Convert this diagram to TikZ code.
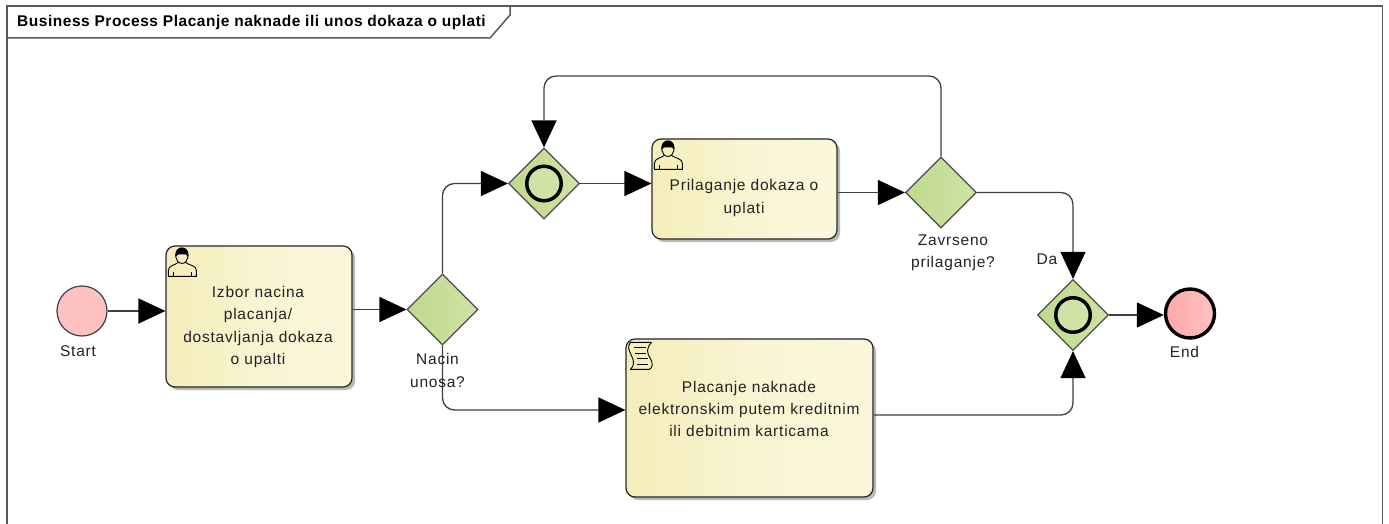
\documentclass[tikz,border=0pt]{standalone}
\usepackage{fontspec}
\setmainfont{Liberation Sans}
\newfontfamily\labfont[LetterSpace=5]{Liberation Sans}
\newfontfamily\titlefont[LetterSpace=3.4,BoldFont={Liberation Sans Bold}]{Liberation Sans Bold}
\usetikzlibrary{arrows.meta,shadows,shapes.geometric}
\definecolor{framec}{HTML}{5A5A5A}
\definecolor{linec}{HTML}{404040}
\definecolor{txt}{HTML}{222222}
\tikzset{
  x=1pt,y=-1pt,
  flow/.style={draw=linec,line width=1.3pt,rounded corners=12pt,-{Triangle[length=27pt,width=25pt,fill=black,color=black]}},
  flowtext/.style={text=txt,font=\labfont\fontsize{15.5}{22.4}\selectfont,align=center,inner sep=0pt},
  taskbox/.style={draw=black!85,line width=1.2pt,rectangle,rounded corners=9pt,left color=taskl,right color=taskr,middle color=taskm,
     drop shadow={shadow xshift=3pt,shadow yshift=-3pt,fill=black,opacity=.28},inner sep=0pt},
  gate/.style={diamond,aspect=1,draw=black!70,line width=1.2pt,left color=gatel,right color=gater,inner sep=0pt,minimum width=71pt,minimum height=71pt},
  ring/.style={circle,draw=black,line width=3.5pt,fill=gater,inner sep=0pt,outer sep=0pt,minimum size=34.5pt},
  startev/.style={circle,draw=black!75,line width=1.2pt,fill=evfill,inner sep=0pt,minimum size=50pt},
  endev/.style={circle,draw=black,line width=3.4pt,left color=evl,right color=evfill,inner sep=0pt,minimum size=49pt},
  framel/.style={draw=framec,line width=1.8pt},
  iconl/.style={draw=black,line width=.9pt,line join=round},
}
\definecolor{taskl}{HTML}{F5EDBA}
\definecolor{taskm}{HTML}{F9F4D2}
\definecolor{taskr}{HTML}{FBF7DC}
\definecolor{gatel}{HTML}{BFD98C}
\definecolor{gater}{HTML}{CFE3A6}
\definecolor{evfill}{HTML}{FFC2C2}
\definecolor{evl}{HTML}{FFA8A8}
\newcommand{\personglyph}{%
  \fill[black] (10,8.5) arc[start angle=180,end angle=360,radius=6.5] -- (23,11) -- (20,9) -- (13,9) -- (10,11) -- cycle;
  \draw[iconl] (10.5,9) -- (10.5,12) .. controls (11,15) and (13,18) .. (16.5,18) .. controls (20,18) and (22,15) .. (22.5,12) -- (22.5,9);
  \draw[iconl] (3,31) -- (3,25) .. controls (3,20) and (9,20) .. (13,17);
  \draw[iconl] (20,17) .. controls (24,20) and (31,20) .. (31,25) -- (31,31) -- (3,31);
  \draw[iconl] (8,31) -- (8,27) (26,31) -- (26,27);
}
\newcommand{\scriptglyph}{%
  \draw[iconl] (5,4) -- (26,4) .. controls (21,10) and (21,14) .. (25,20) .. controls (28,26) and (27,29) .. (24,31) -- (5,31) .. controls (9,27) and (9,23) .. (6,17) .. controls (3,11) and (2,8) .. (5,4) -- cycle;
  \draw[iconl] (9,9.5) -- (21,9.5) (10,15) -- (21,15) (12,20.5) -- (23,20.5) (12,26) -- (23,26);
}
\begin{document}
\begin{tikzpicture}
\useasboundingbox[fill=white] (0,0) rectangle (1389,524);
% frame
\coordinate (fbl) at (7,524);
\coordinate (ftl) at (7,6);
\coordinate (ftr) at (1382.5,6);
\coordinate (fbr) at (1382.5,524);
\coordinate (tabl) at (7,38);
\coordinate (tabe) at (490,38);
\coordinate (tabd) at (510,15);
\coordinate (tabt) at (510,6);
\draw[framel] (fbl) -- (ftl) -- (ftr) -- (fbr);
\draw[framel,line width=1.5pt] (tabl) -- (tabe) -- (tabd) -- (tabt);
\node[anchor=west,inner sep=0pt,font=\titlefont\fontsize{15.5}{18}\selectfont,text=black] (title) at (17,22) {Business Process Placanje naknade ili unos dokaza o uplati};

% nodes
\node[startev] (start) at (82,311) {};
\node[taskbox,minimum width=186pt,minimum height=141pt] (t1) at (259,316.5) {};
\node[gate] (g1) at (442.5,309.5) {};
\node[gate] (g2) at (544,183.5) {};
\node[ring] (r2) at (544,183.5) {};
\node[taskbox,minimum width=185pt,minimum height=100pt] (t2) at (744.5,189) {};
\node[gate] (g3) at (941,192.5) {};
\node[taskbox,minimum width=247pt,minimum height=158pt] (t3) at (749.5,418) {};
\node[gate] (g4) at (1073,315) {};
\node[ring] (r4) at (1073,315) {};
\node[endev] (end) at (1190,313.5) {};

% connectors
\coordinate (c1) at (442.5,183.5);
\coordinate (c2) at (442.5,410);
\coordinate (c3) at (941,76);
\coordinate (c4) at (544,76);
\coordinate (c5) at (1073,192.5);
\coordinate (c6) at (1073,415);
\draw[flow] (start) -- (start -| t1.west);
\draw[flow] (t1.east |- g1) -- (g1.west);
\draw[flow] (g1.north) -- (c1) -- (g2.west);
\draw[flow] (g2.east) -- (t2.west |- g2);
\draw[flow] (t2.east |- g3) -- (g3.west);
\draw[flow] (g3.north) -- (c3) -- (c4) -- (g2.north);
\draw[flow] (g3.east) -- (c5) -- (g4.north);
\draw[flow] (g1.south) -- (c2) -- (c2 -| t3.west);
\draw[flow] (t3.east |- c6) -- (c6) -- (g4.south);
\draw[flow] (g4.east) -- (g4 -| end.west);

% task texts
\node[flowtext] (t1txt) at (258,327) {Izbor nacina\\placanja/\\dostavljanja dokaza\\o upalti};
\node[flowtext] (t2txt) at (744,198) {Prilaganje dokaza o\\uplati};
\node[flowtext] (t3txt) at (749,409) {Placanje naknade\\elektronskim putem kreditnim\\ili debitnim karticama};
% labels
\node[flowtext] (lstart) at (78,351) {Start};
\node[flowtext] (lend) at (1184.5,352) {End};
\node[flowtext] (lg1) at (437.5,370.5) {Nacin\\unosa?};
\node[flowtext] (lg3) at (953,252.5) {Zavrseno\\prilaganje?};
\node[flowtext] (lda) at (1047,259) {Da};

% icons
\begin{scope}[shift={(t1.north west)}]\personglyph\end{scope}
\begin{scope}[shift={(t2.north west)}]\personglyph\end{scope}
\begin{scope}[shift={(t3.north west)}]\scriptglyph\end{scope}
\end{tikzpicture}
\end{document}
